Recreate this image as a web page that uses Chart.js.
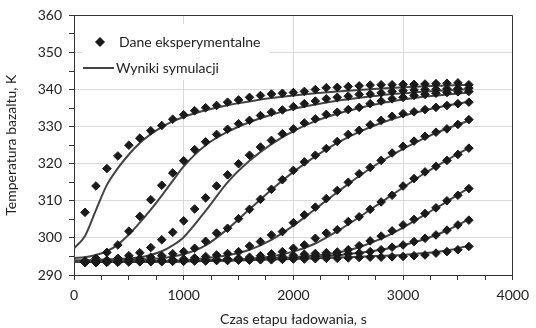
<!DOCTYPE html>
<html><head><meta charset="utf-8">
<script src="https://cdn.jsdelivr.net/npm/chart.js@4.4.1/dist/chart.umd.min.js"></script>
<style>html,body{margin:0;padding:0;background:#fff}#wrap{width:536px;height:328px}</style>
</head><body><div id="wrap"><canvas id="c" width="536" height="328"></canvas></div>
<script>
// Experimental data: time (s) and basalt temperature (K)
const expTimes = [100,200,300,400,500,600,700,800,900,1000,1100,1200,1300,1400,1500,1600,1700,1800,1900,2000,2100,2200,2300,2400,2500,2600,2700,2800,2900,3000,3100,3200,3300,3400,3500,3600];
const expA = [306.9,314.0,318.7,322.1,325.0,326.9,328.9,330.3,332.0,333.2,334.3,335.1,335.7,336.6,337.2,337.9,338.4,338.8,339.0,339.2,339.5,340.0,340.5,340.6,340.8,341.0,341.2,341.3,341.3,341.4,341.4,341.5,341.6,341.7,341.8,341.3];
const expB = [293.8,294.5,296.1,298.1,301.8,305.8,310.3,314.2,317.5,320.8,323.8,325.9,327.9,329.3,330.8,331.7,333.0,333.9,334.5,335.4,336.2,336.9,337.5,337.9,338.2,338.7,338.8,339.1,339.5,339.7,339.9,340.0,340.1,340.2,340.3,340.4];
const expC = [293.6,293.8,294.0,294.5,295.2,296.0,297.4,299.5,301.5,304.6,307.8,310.8,314.0,317.0,320.0,322.3,324.5,326.3,328.1,329.4,331.0,332.1,333.3,333.9,334.6,335.2,336.2,336.9,337.5,337.9,338.4,338.7,339.0,339.2,339.4,339.5];
const expD = [293.5,293.6,293.8,294.0,294.2,294.4,294.8,295.2,295.7,296.3,297.2,299.1,301.3,302.6,305.2,307.7,310.4,313.1,315.7,318.2,320.5,322.3,324.1,326.0,327.9,329.0,330.5,331.7,332.8,333.5,334.0,334.6,335.2,335.7,336.2,336.6];
const expE = [293.4,293.5,293.5,293.6,293.7,293.8,293.9,294.0,294.1,294.3,294.6,295.0,295.4,295.8,296.3,297.8,299.0,300.8,301.7,304.1,306.2,308.3,310.6,312.8,315.0,317.3,319.0,320.9,322.9,324.7,326.1,327.4,328.5,329.4,330.6,331.9];
const expF = [293.5,293.4,293.6,293.5,293.6,293.7,293.7,293.8,293.9,293.9,294.0,294.1,294.2,294.3,294.5,294.8,295.2,295.7,296.3,297.2,298.1,299.9,301.3,302.2,304.4,305.7,307.7,309.7,311.5,314.0,316.0,317.8,319.3,320.9,322.5,324.2];
const expG = [293.4,293.5,293.5,293.6,293.6,293.7,293.7,293.8,293.8,293.9,293.9,294.0,294.1,294.2,294.3,294.4,294.6,294.8,295.0,295.3,295.6,295.8,296.0,296.2,296.8,297.9,299.2,300.5,301.9,303.5,305.0,306.6,308.1,310.0,311.5,313.3];
const expH = [293.5,293.4,293.5,293.5,293.6,293.6,293.7,293.7,293.8,293.8,293.9,293.9,294.0,294.0,294.1,294.2,294.3,294.4,294.5,294.7,294.9,295.1,295.3,295.5,295.7,295.9,296.3,296.8,297.5,298.1,299.0,299.9,300.8,302.1,303.5,304.8];
const expI = [293.4,293.4,293.5,293.5,293.5,293.6,293.6,293.6,293.7,293.7,293.8,293.8,293.9,293.9,294.0,294.0,294.1,294.1,294.2,294.3,294.3,294.4,294.5,294.5,294.6,294.7,294.8,294.8,294.9,295.0,295.2,295.4,295.9,296.3,296.8,297.7];

// Simulation results
const simTimes = [0,100,200,300,400,500,600,700,800,900,1000,1200,1400,1600,1800,2000,2200,2400,2600,2800,3000,3200,3400,3600];
const simA = [297.2,300.5,307.5,314.3,318.8,322.5,325.6,328.0,329.9,331.4,332.6,334.4,335.8,336.8,337.7,338.4,339.0,339.5,339.9,340.3,340.6,340.9,341.1,341.3];
const simB = [294.6,294.8,295.4,296.4,298.2,300.9,304.1,307.6,311.4,315.4,319.3,325.0,328.6,331.2,333.2,334.8,336.0,337.0,337.8,338.5,339.0,339.5,339.8,340.1];
const simC = [294.0,294.0,294.1,294.2,294.3,294.5,294.8,295.4,296.4,298.0,300.2,307.3,315.0,320.8,325.3,328.8,331.5,333.5,335.0,336.3,337.3,338.1,338.7,339.2];
const simD = [293.8,293.8,293.9,293.9,294.0,294.1,294.2,294.3,294.5,295.0,295.6,298.0,302.4,307.7,313.0,317.8,322.0,325.6,328.6,331.0,332.9,334.4,335.7,336.7];
const simE = [293.6,293.6,293.6,293.7,293.7,293.7,293.8,293.8,293.8,293.9,294.0,294.5,295.3,296.8,299.5,303.3,307.8,312.3,316.7,320.6,324.0,327.0,329.5,331.6];
const simF = [293.6,293.6,293.6,293.6,293.7,293.7,293.7,293.7,293.8,293.8,293.8,293.9,294.1,294.4,295.0,296.3,298.5,301.8,305.6,309.6,313.6,317.5,321.0,324.3];
const simG = [293.5,293.5,293.5,293.5,293.6,293.6,293.6,293.6,293.7,293.7,293.7,293.8,294.0,294.2,294.5,294.8,295.3,296.0,297.5,299.8,302.8,306.3,309.8,313.5];
const simH = [293.5,293.5,293.5,293.5,293.5,293.5,293.6,293.6,293.6,293.6,293.7,293.8,293.9,294.1,294.3,294.5,294.8,295.3,296.0,296.8,298.0,299.7,302.0,305.0];
const simI = [293.5,293.5,293.5,293.5,293.5,293.5,293.5,293.6,293.6,293.6,293.7,293.8,293.9,294.0,294.2,294.3,294.5,294.7,294.9,295.2,295.4,295.9,296.6,297.9];

const expSeries = [expA,expB,expC,expD,expE,expF,expG,expH,expI];
const simSeries = [simA,simB,simC,simD,simE,simF,simG,simH,simI];

const xTitle = 'Czas etapu ładowania, s';
const yTitle = 'Temperatura bazaltu, K';
const legendExp = 'Dane eksperymentalne';
const legendSim = 'Wyniki symulacji';

const FONT = 'Lato';
const FS = 14;
const TXT = '#222';

const datasets = [];
expSeries.forEach(arr => {
  datasets.push({
    type: 'scatter',
    data: arr.map((v,i) => ({x: expTimes[i], y: v})),
    pointStyle: 'rectRot', pointRadius: 4.3, pointBorderWidth: 1,
    backgroundColor: '#1a1a1a', borderColor: '#1a1a1a',
    showLine: false, order: 0
  });
});
simSeries.forEach(arr => {
  datasets.push({
    type: 'scatter',
    data: arr.map((v,i) => ({x: simTimes[i], y: v})),
    showLine: true, pointRadius: 0, borderColor: '#444', borderWidth: 2,
    cubicInterpolationMode: 'monotone', fill: false, order: 1
  });
});

const framePlugin = {
  id: 'frame',
  beforeDatasetsDraw(chart) {
    const ctx = chart.ctx;
    ctx.save();
    ctx.fillStyle = '#fff';
    ctx.fillRect(82, 24, 188, 56);
    ctx.restore();
  },
  afterDraw(chart) {
    const {ctx, chartArea: a} = chart;
    ctx.save();
    ctx.strokeStyle = '#333';
    ctx.lineWidth = 1;
    const t = Math.round(a.top) + 0.5, r = Math.round(a.right) - 0.5;
    ctx.beginPath();
    ctx.moveTo(a.left, t); ctx.lineTo(r, t); ctx.lineTo(r, a.bottom);
    ctx.stroke();
    // legend
    ctx.fillStyle = '#1a1a1a';
    ctx.beginPath();
    ctx.moveTo(100, 37); ctx.lineTo(105, 42); ctx.lineTo(100, 47); ctx.lineTo(95, 42); ctx.closePath();
    ctx.fill();
    ctx.strokeStyle = '#444'; ctx.lineWidth = 2;
    ctx.beginPath(); ctx.moveTo(83, 68); ctx.lineTo(114, 68); ctx.stroke();
    ctx.fillStyle = TXT;
    ctx.font = FS + 'px ' + FONT;
    ctx.textBaseline = 'middle';
    ctx.fillText(legendExp, 119, 42);
    ctx.fillText(legendSim, 116, 68);
    ctx.restore();
  }
};

new Chart(document.getElementById('c'), {
  type: 'scatter',
  data: { datasets },
  options: {
    responsive: false, animation: false, devicePixelRatio: 1,
    layout: { padding: { left: 0, right: 17, top: 15, bottom: 0 } },
    plugins: { legend: { display: false }, tooltip: { enabled: false } },
    scales: {
      x: {
        type: 'linear', min: 0, max: 4000,
        afterFit(s) { s.height = 53; },
        ticks: {
          stepSize: 250, autoSkip: false, maxRotation: 0, padding: 7,
          color: TXT, font: { family: FONT, size: FS },
          callback: v => (v % 1000 === 0 ? String(v) : '')
        },
        grid: {
          color: c => (c.tick && c.tick.value % 1000 === 0 ? '#d9d9d9' : 'rgba(0,0,0,0)'),
          tickColor: '#333', tickLength: 5, lineWidth: 1
        },
        border: { color: '#333', width: 1 },
        title: { display: true, text: xTitle, color: TXT, font: { family: FONT, size: FS }, padding: { top: 0, bottom: 0 } }
      },
      y: {
        type: 'linear', min: 290, max: 360,
        afterFit(s) { s.width = 74; },
        ticks: {
          stepSize: 5, autoSkip: false, padding: 7,
          color: TXT, font: { family: FONT, size: FS },
          callback: v => (v % 10 === 0 ? String(v) : '')
        },
        grid: {
          color: c => (c.tick && c.tick.value % 10 === 0 ? '#d9d9d9' : 'rgba(0,0,0,0)'),
          tickColor: '#333', tickLength: 5, lineWidth: 1
        },
        border: { color: '#333', width: 1 },
        title: { display: true, text: yTitle, color: TXT, font: { family: FONT, size: FS }, padding: { top: 3, bottom: 0 } }
      }
    }
  },
  plugins: [framePlugin]
});
</script>
</body></html>
